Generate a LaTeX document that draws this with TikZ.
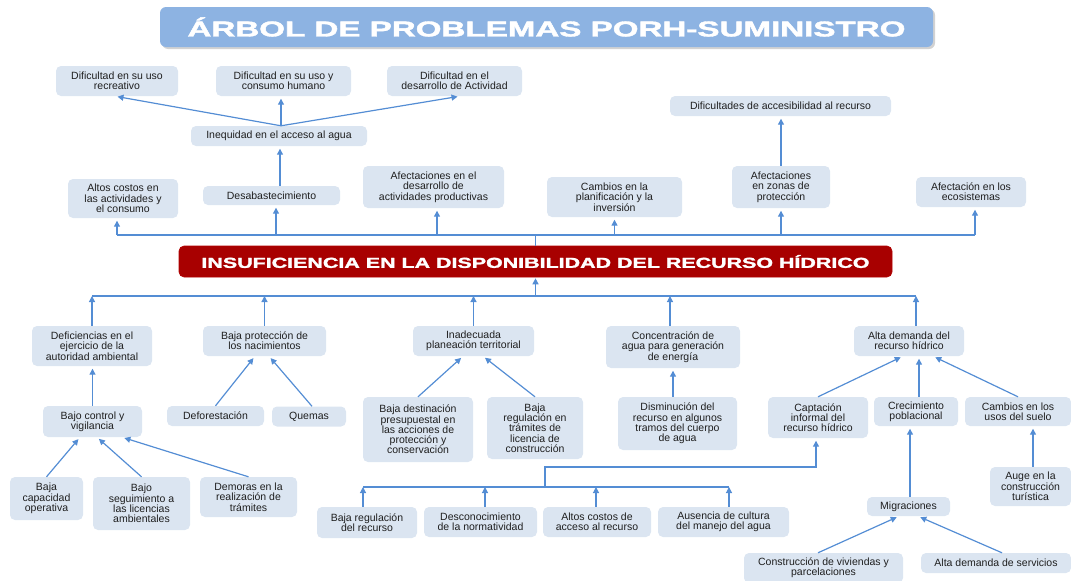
\documentclass[tikz,border=0pt]{standalone}
\usepackage{fontspec}
\setmainfont{Liberation Sans}
\usepackage{graphicx}
\usetikzlibrary{arrows.meta,shadows}
\definecolor{boxfill}{HTML}{DBE5F1}
\definecolor{arrowc}{HTML}{548DD4}
\definecolor{titlec}{HTML}{8DB3E2}
\definecolor{redc}{HTML}{A80000}
\definecolor{txt}{HTML}{1F1F1F}
\newfontfamily\heavyfont[FakeBold=1.6]{Liberation Sans Bold}
\newcommand\mybox[5]{\node[bx, minimum width=#3pt, minimum height=#4pt] (#1) at (#2) {#5};}
\begin{document}
\begin{tikzpicture}[x=1pt,y=-1pt,
 bx/.style={fill=boxfill, rounded corners=5pt, align=center, inner sep=0pt, text=txt, font=\fontsize{10.5}{10.3}\selectfont},
 ln/.style={draw=arrowc, line width=1.2pt},
 arr/.style={ln, -{Triangle[length=6pt,width=6pt]}},
 arrg/.style={arr, shorten >=2.5pt},
 titlebox/.style={fill=titlec, rounded corners=6pt, inner sep=0pt, text=white, drop shadow={shadow xshift=2pt, shadow yshift=-2pt, fill=black!35, opacity=0.5}},
 cenbox/.style={fill=redc, draw=red!70!black, line width=0.6pt, rounded corners=5pt, inner sep=0pt, text=white}]
\useasboundingbox (0,0) rectangle (1071,581);

% title and central problem
\node[titlebox, minimum width=773pt, minimum height=40pt] (title) at (546.5,27)
  {\resizebox{718pt}{\height}{\fontsize{21.5}{21.5}\selectfont\heavyfont ÁRBOL DE PROBLEMAS PORH-SUMINISTRO}};
\node[cenbox, minimum width=713pt, minimum height=31pt] (cen) at (535.5,261.5)
  {\resizebox{668pt}{\height}{\fontsize{14.5}{14.5}\selectfont\heavyfont INSUFICIENCIA EN LA DISPONIBILIDAD DEL RECURSO HÍDRICO}};

% effects
\mybox{t1}{117,81}{122}{30}{Dificultad en su uso\\recreativo}
\mybox{t2}{283.5,81}{135}{30}{Dificultad en su uso y\\consumo humano}
\mybox{t3}{454.5,81}{135}{30}{Dificultad en el\\desarrollo de Actividad}
\mybox{ineq}{279,136}{176}{20}{Inequidad en el acceso al agua}
\mybox{difacc}{780.5,106}{221}{20}{Dificultades de accesibilidad al recurso}
\mybox{altos}{123,198.5}{110}{39}{Altos costos en\\las actividades y\\el consumo}
\mybox{desab}{271.5,195.5}{137}{19}{Desabastecimiento}
\mybox{afdes}{433.5,187}{141}{42}{Afectaciones en el\\desarrollo de\\actividades productivas}
\mybox{cplan}{614.5,197}{135}{40}{Cambios en la\\planificación y la\\inversión}
\mybox{afzon}{781,187}{98}{42}{Afectaciones\\en zonas de\\protección}
\mybox{afeco}{971,192}{110}{30}{Afectación en los\\ecosistemas}

% causes
\mybox{defi}{92,346}{120}{40}{Deficiencias en el\\ejercicio de la\\autoridad ambiental}
\mybox{bprot}{264.5,341}{123}{30}{Baja protección de\\los nacimientos}
\mybox{inad}{473.5,341}{121}{30}{Inadecuada\\planeación territorial}
\mybox{conc}{673,347}{134}{42}{Concentración de\\agua para generación\\de energía}
\mybox{alta}{909,341}{110}{30}{Alta demanda del\\recurso hídrico}
\mybox{bctrl}{92.5,421.5}{99}{31}{Bajo control y\\vigilancia}
\mybox{defo}{215.5,416}{97}{20}{Deforestación}
\mybox{quem}{309,416.5}{74}{20}{Quemas}
\mybox{bdest}{418,429.5}{110}{65}{Baja destinación\\presupuestal en\\las acciones de\\protección y\\conservación}
\mybox{breg}{535,428}{96}{62}{Baja\\regulación en\\trámites de\\licencia de\\construcción}
\mybox{dism}{677.5,423.5}{119}{53}{Disminución del\\recurso en algunos\\tramos del cuerpo\\de agua}
\mybox{capt}{818,417.5}{100}{41}{Captación\\informal del\\recurso hídrico}
\mybox{crec}{916,411.5}{84}{29}{Crecimiento\\poblacional}
\mybox{cusos}{1018,411.5}{106}{29}{Cambios en los\\usos del suelo}
\mybox{auge}{1030.5,486.5}{81}{39}{Auge en la\\construcción\\turística}
\mybox{migr}{908.5,506.5}{83}{19}{Migraciones}
\mybox{constr}{823.5,568}{159}{30}{Construcción de viviendas y\\parcelaciones}
\mybox{aserv}{996,563}{150}{20}{Alta demanda de servicios}
\mybox{bcap}{46.5,498.5}{73}{43}{Baja\\capacidad\\operativa}
\mybox{bseg}{141.5,503.5}{97}{53}{Bajo\\seguimiento a\\las licencias\\ambientales}
\mybox{dem}{248.5,497}{97}{40}{Demoras en la\\realización de\\trámites}
\mybox{breg2}{367,522.5}{100}{31}{Baja regulación\\del recurso}
\mybox{desc}{480.5,522}{113}{30}{Desconocimiento\\de la normatividad}
\mybox{altc}{597,522}{108}{30}{Altos costos de\\acceso al recurso}
\mybox{aus}{723.5,522}{131}{30}{Ausencia de cultura\\del manejo del agua}

% upper bus (effects)
\coordinate (ubusL) at (117,235);
\coordinate (ubusR) at (975,235);
\draw[ln] (ubusL) -- (ubusR);
\draw[ln] (cen.north) -- (cen.north |- ubusL);
\draw[arrg] (ubusL) -- (ubusL |- altos.south);
\draw[arrg] ([xshift=4.5pt]desab.south |- ubusL) -- ([xshift=4.5pt]desab.south);
\draw[arrg] ([xshift=3.5pt]afdes.south |- ubusL) -- ([xshift=3.5pt]afdes.south);
\draw[arrg] (cplan.south |- ubusL) -- (cplan.south);
\draw[arrg] (afzon.south |- ubusL) -- (afzon.south);
\draw[arrg] (ubusR) -- (ubusR |- afeco.south);
\draw[arrg] ([xshift=1pt]ineq.south |- desab.north) -- ([xshift=1pt]ineq.south);
\draw[arrg] (afzon.north) -- (afzon.north |- difacc.south);
\draw[arrg] ([xshift=2pt]ineq.north) -- ([xshift=-2pt]t1.south);
\draw[arrg] ([xshift=2pt]ineq.north) -- ([xshift=-2.5pt]t2.south);
\draw[arrg] ([xshift=2pt]ineq.north) -- ([xshift=5.5pt]t3.south);

% lower bus (causes)
\coordinate (lbusL) at (92,296);
\coordinate (lbusR) at (916,296);
\draw[ln] (lbusL) -- (lbusR);
\draw[arr, shorten >=1pt] (cen.south |- lbusL) -- (cen.south);
\draw[arr] (defi.north) -- (lbusL);
\draw[arr] (bprot.north) -- (bprot.north |- lbusL);
\draw[arr] (inad.north) -- (inad.north |- lbusL);
\draw[arr] ([xshift=-3pt]conc.north) -- ([xshift=-3pt]conc.north |- lbusL);
\draw[arr] (lbusR |- alta.north) -- (lbusR);

\draw[arrg] (bctrl.north) -- (bctrl.north |- defi.south);
\draw[arrg] (defo.north) -- ([xshift=-9.5pt]bprot.south);
\draw[arrg] ([xshift=3pt]quem.north) -- ([xshift=4.5pt]bprot.south);
\draw[arrg] (bdest.north) -- ([xshift=-10.5pt]inad.south);
\draw[arrg] (breg.north) -- ([xshift=9.5pt]inad.south);
\draw[arrg] (conc.south |- dism.north) -- (conc.south);
\draw[arrg] (capt.north) -- ([xshift=-6pt]alta.south);
\draw[arrg] ([xshift=3pt]crec.north) -- ([xshift=3pt]crec.north |- alta.south);
\draw[arrg] (cusos.north) -- ([xshift=24pt]alta.south);
\draw[arrg] ([xshift=2.5pt]auge.north) -- ([xshift=2.5pt]auge.north |- cusos.south);
\draw[arrg] ([xshift=1.5pt]migr.north) -- ([xshift=1.5pt]migr.north |- crec.south);
\draw[arrg] ([xshift=-5.5pt]constr.north) -- ([xshift=-9.5pt]migr.south);
\draw[arrg] ([xshift=6pt]aserv.north) -- ([xshift=9.5pt]migr.south);
\draw[arrg] (bcap.north) -- ([xshift=-12.5pt]bctrl.south);
\draw[arrg] (bseg.north) -- ([xshift=4.5pt]bctrl.south);
\draw[arrg] (dem.north) -- ([xshift=29.5pt]bctrl.south);

% bottom bus
\coordinate (bbusL) at (363,487);
\coordinate (bbusR) at (729,487);
\coordinate (bj) at (545,487);
\coordinate (bj1) at (545,467);
\draw[ln] (bbusL) -- (bbusR);
\draw[arr] (bbusL |- breg2.north) -- (bbusL);
\draw[arr] ([xshift=4.5pt]desc.north) -- ([xshift=4.5pt]desc.north |- bbusL);
\draw[arr] ([xshift=-1pt]altc.north) -- ([xshift=-1pt]altc.north |- bbusL);
\draw[arr] (bbusR |- aus.north) -- (bbusR);
\draw[arrg] (bj) -- (bj1) -| ([xshift=-2pt]capt.south);
\end{tikzpicture}
\end{document}
